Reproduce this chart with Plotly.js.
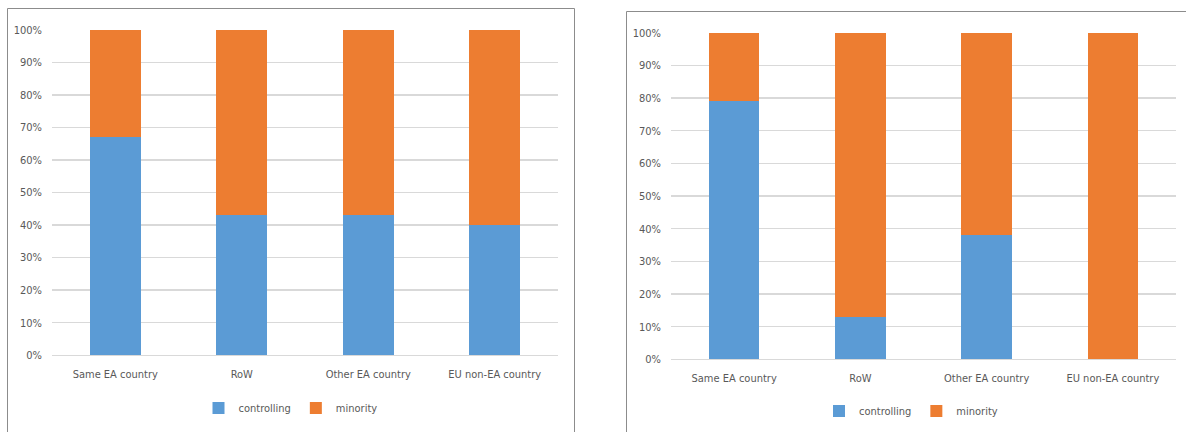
<!DOCTYPE html>
<html>
<head>
<meta charset="utf-8">
<script src="https://cdn.plot.ly/plotly-3.0.1.min.js"></script>
<style>
  html, body { margin: 0; padding: 0; background: #fff; }
  #chart { width: 1186px; height: 432px; }
</style>
</head>
<body>
<div id="chart"></div>
<script>
const categories = ['Same EA country', 'RoW', 'Other EA country', 'EU non-EA country'];
const seriesNames = ['controlling', 'minority'];
const leftControlling = [0.67, 0.43, 0.43, 0.40];
const leftMinority = [0.33, 0.57, 0.57, 0.60];
const rightControlling = [0.79, 0.13, 0.38, 0.00];
const rightMinority = [0.21, 0.87, 0.62, 1.00];
const yTickVals = [0, 0.1, 0.2, 0.3, 0.4, 0.5, 0.6, 0.7, 0.8, 0.9, 1.0];
const yTickText = ['0%', '10%', '20%', '30%', '40%', '50%', '60%', '70%', '80%', '90%', '100%'];

const W = 1186, H = 432;
const BLUE = '#5B9BD5', ORANGE = '#ED7D31';
const FONT = { family: '"Liberation Sans Narrow", "DejaVu Sans Condensed", "Liberation Sans", Arial, sans-serif', size: 11, color: '#595959' };
const px = v => v / W;
const py = v => 1 - v / H;

const traces = [
  { type: 'bar', name: seriesNames[0], x: categories, y: leftControlling, xaxis: 'x', yaxis: 'y', legend: 'legend',
    marker: { color: BLUE, line: { width: 0 } }, hoverinfo: 'skip' },
  { type: 'bar', name: seriesNames[1], x: categories, y: leftMinority, xaxis: 'x', yaxis: 'y', legend: 'legend',
    marker: { color: ORANGE, line: { width: 0 } }, hoverinfo: 'skip' },
  { type: 'bar', name: seriesNames[0], x: categories, y: rightControlling, xaxis: 'x2', yaxis: 'y2', legend: 'legend2',
    marker: { color: BLUE, line: { width: 0 } }, hoverinfo: 'skip' },
  { type: 'bar', name: seriesNames[1], x: categories, y: rightMinority, xaxis: 'x2', yaxis: 'y2', legend: 'legend2',
    marker: { color: ORANGE, line: { width: 0 } }, hoverinfo: 'skip' }
];

const xCommon = {
  type: 'category', showgrid: false, zeroline: false, showline: false, ticks: '',
  tickfont: FONT, ticklabelstandoff: 11, fixedrange: true
};
const yCommon = {
  range: [0, 1], tickvals: yTickVals, ticktext: yTickText, showgrid: true, gridcolor: '#D9D9D9', gridwidth: 1.5,
  zeroline: true, zerolinecolor: '#D9D9D9', zerolinewidth: 1.5, showline: false, ticks: '',
  tickfont: FONT, ticklabelstandoff: 9, fixedrange: true
};

const layout = {
  width: W, height: H,
  margin: { l: 0, r: 0, t: 0, b: 0 },
  paper_bgcolor: '#ffffff', plot_bgcolor: 'rgba(0,0,0,0)',
  barmode: 'stack', bargap: 0.6,
  font: FONT,
  showlegend: true,
  xaxis: Object.assign({}, xCommon, { domain: [px(52), px(558)], anchor: 'y' }),
  yaxis: Object.assign({}, yCommon, { domain: [py(355.3), py(29.7)], anchor: 'x' }),
  xaxis2: Object.assign({}, xCommon, { domain: [px(671), px(1176)], anchor: 'y2' }),
  yaxis2: Object.assign({}, yCommon, { domain: [py(359.4), py(32.7)], anchor: 'x2' }),
  legend: { orientation: 'h', x: px(290.5), xanchor: 'center', y: py(408), yanchor: 'middle',
            font: FONT, bgcolor: 'rgba(0,0,0,0)', itemwidth: 30, traceorder: 'normal' },
  legend2: { orientation: 'h', x: px(911), xanchor: 'center', y: py(411), yanchor: 'middle',
             font: FONT, bgcolor: 'rgba(0,0,0,0)', itemwidth: 30, traceorder: 'normal' },
  shapes: [
    { type: 'line', xref: 'paper', yref: 'paper', x0: px(7.5), x1: px(574.5), y0: py(8.5), y1: py(8.5), line: { color: '#8C8C8C', width: 1 } },
    { type: 'line', xref: 'paper', yref: 'paper', x0: px(7.5), x1: px(7.5), y0: py(8.5), y1: -0.05, line: { color: '#8C8C8C', width: 1 } },
    { type: 'line', xref: 'paper', yref: 'paper', x0: px(574.5), x1: px(574.5), y0: py(8.5), y1: -0.05, line: { color: '#8C8C8C', width: 1 } },
    { type: 'line', xref: 'paper', yref: 'paper', x0: px(626.5), x1: 1.05, y0: py(11.5), y1: py(11.5), line: { color: '#8C8C8C', width: 1 } },
    { type: 'line', xref: 'paper', yref: 'paper', x0: px(626.5), x1: px(626.5), y0: py(11.5), y1: -0.05, line: { color: '#8C8C8C', width: 1 } }
  ]
};

Plotly.newPlot('chart', traces, layout, { staticPlot: true, displayModeBar: false });
</script>
</body>
</html>
